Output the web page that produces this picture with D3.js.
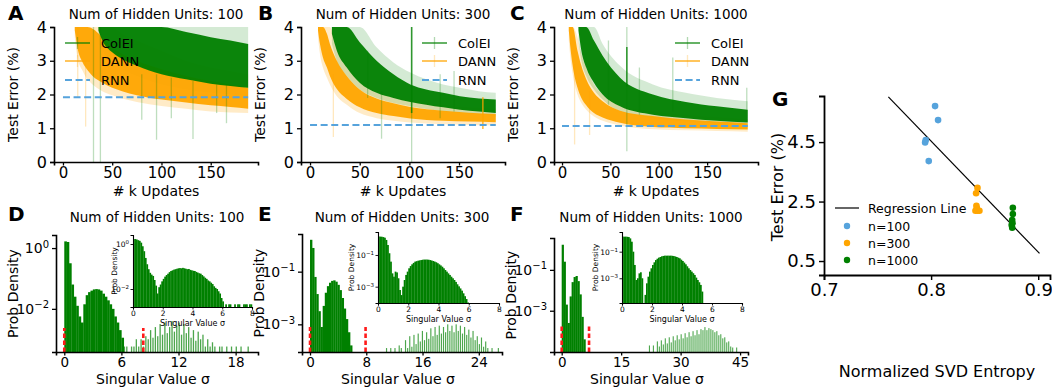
<!DOCTYPE html>
<html>
<head>
<meta charset="utf-8">
<script src="https://cdn.jsdelivr.net/npm/d3@7"></script>
<style>
  body { margin: 0; background: #fff; }
  svg text { font-family: "DejaVu Sans", sans-serif; fill: #000; }
</style>
</head>
<body>
<svg id="fig" width="1052" height="387"></svg>
<script>
// ---------------- data ----------------
const hiddenUnits = [100, 300, 1000];
const updateTicks = [0, 50, 100, 150];
const errorTicks = [0, 1, 2, 3, 4];
const seriesNames = ["ColEI", "DANN", "RNN"];

// test error (%) vs k updates: [k, body low, body high, spread low, spread high]
const coleiA = [
  [36, 3.9, 4, 3.5, 4], [40, 3.6, 4, 3.3, 4], [50, 3.25, 4, 2.95, 4],
  [60, 3.05, 4, 2.75, 4], [75, 2.85, 4, 2.55, 4], [100, 2.6, 4, 2.3, 4],
  [125, 2.45, 3.85, 2.15, 4], [150, 2.32, 3.7, 2.05, 4], [170, 2.25, 3.6, 2.0, 4],
  [188, 2.2, 3.5, 1.95, 4]
];
const dannA = [
  [12, 3.9, 4, 3.7, 4], [15, 3.35, 4, 3.05, 4], [20, 2.95, 4, 2.7, 4],
  [25, 2.72, 4, 2.45, 4], [30, 2.55, 3.95, 2.3, 4], [40, 2.35, 3.7, 2.1, 4],
  [50, 2.2, 3.4, 1.98, 4], [60, 2.1, 3.2, 1.88, 3.8], [75, 1.98, 3.0, 1.78, 3.6],
  [100, 1.85, 2.75, 1.66, 3.3], [125, 1.76, 2.55, 1.58, 3.0], [150, 1.68, 2.4, 1.5, 2.8],
  [170, 1.63, 2.3, 1.47, 2.7], [188, 1.58, 2.2, 1.45, 2.6]
];
const coleiB = [
  [22, 3.8, 4, 3.5, 4], [27, 3.3, 4, 3.0, 4], [37, 2.8, 4, 2.55, 4],
  [50, 2.35, 3.55, 2.15, 4], [67, 2.05, 3.0, 1.9, 3.4], [84, 1.9, 2.6, 1.75, 2.95],
  [101, 1.78, 2.3, 1.65, 2.65], [117, 1.7, 2.15, 1.57, 2.45], [134, 1.62, 2.05, 1.5, 2.3],
  [151, 1.55, 1.95, 1.45, 2.2], [170, 1.5, 1.88, 1.4, 2.1], [187, 1.45, 1.85, 1.35, 2.05]
];
const dannB = [
  [8, 3.9, 4, 3.7, 4], [10, 3.5, 4, 3.2, 4], [13, 3.1, 4, 2.8, 4],
  [17, 2.8, 3.8, 2.5, 4], [20, 2.55, 3.5, 2.3, 4], [27, 2.16, 3.0, 1.95, 3.4],
  [37, 1.87, 2.55, 1.7, 2.9], [50, 1.62, 2.15, 1.45, 2.45], [67, 1.45, 1.88, 1.3, 2.1],
  [84, 1.36, 1.74, 1.22, 1.95], [101, 1.29, 1.63, 1.17, 1.82], [134, 1.22, 1.52, 1.12, 1.7],
  [160, 1.2, 1.46, 1.1, 1.62], [187, 1.18, 1.42, 1.08, 1.58]
];
const coleiC = [
  [17, 3.9, 4, 3.6, 4], [20, 3.3, 4, 3.0, 4], [25, 2.8, 4, 2.55, 4],
  [33, 2.35, 3.6, 2.15, 4], [42, 2.0, 3.15, 1.85, 3.5], [60, 1.65, 2.5, 1.5, 2.85],
  [94, 1.4, 2.0, 1.3, 2.3], [128, 1.3, 1.78, 1.2, 2.05], [160, 1.22, 1.65, 1.13, 1.9],
  [192, 1.17, 1.55, 1.08, 1.8]
];
const dannC = [
  [7, 3.9, 4, 3.6, 4], [9, 3.3, 4, 3.0, 4], [11, 2.85, 4, 2.6, 4],
  [16, 2.2, 3.3, 2.0, 3.7], [20, 1.9, 2.85, 1.75, 3.2], [25, 1.68, 2.45, 1.55, 2.8],
  [33, 1.45, 2.05, 1.35, 2.3], [42, 1.32, 1.8, 1.22, 2.0], [60, 1.16, 1.52, 1.08, 1.7],
  [94, 1.04, 1.36, 0.97, 1.5], [128, 1.0, 1.26, 0.94, 1.4], [160, 0.98, 1.2, 0.92, 1.33],
  [192, 0.96, 1.15, 0.9, 1.27]
];
// RNN baseline test error (%) per network size
const rnnError = [1.92, 1.1, 1.07];
const rnnSpan = [[0, 188], [0, 187], [0, 192]];

// isolated error bars: [k, low, high, series, strong]
const spikesA = [
  [15, 1.9, 4, "DANN", 0], [23, 1.05, 3.0, "DANN", 0], [31, 0, 4, "ColEI", 0],
  [38, 0, 4, "ColEI", 0], [80, 1.25, 2.6, "ColEI", 0], [95, 0.66, 2.6, "ColEI", 0],
  [110, 1.3, 2.5, "ColEI", 0], [132, 0.68, 2.4, "ColEI", 0], [156, 1.45, 2.3, "ColEI", 0],
  [166, 1.15, 2.3, "ColEI", 0]
];
const spikesB = [
  [23.5, 0.74, 2.6, "DANN", 0], [72, 0.69, 2.1, "ColEI", 0], [102.3, 0, 4, "ColEI", 0],
  [102.3, 1.45, 4, "ColEI", 1], [131, 1.3, 2.6, "ColEI", 0], [174, 0.98, 1.92, "DANN", 1],
  [58, 1.9, 3.3, "ColEI", 0], [145, 1.5, 2.7, "ColEI", 0]
];
const spikesC = [
  [13, 0.52, 2.9, "DANN", 0], [28.5, 0.8, 2.1, "DANN", 0], [67, 0.32, 4, "ColEI", 0],
  [67, 2.24, 3.41, "ColEI", 1], [114.5, 1.5, 3.1, "ColEI", 0], [191, 1.55, 2.2, "ColEI", 0],
  [48, 1.7, 3.6, "ColEI", 0], [80, 1.4, 2.8, "ColEI", 0]
];

// singular value spectra: log10 probability density per bin (null = empty bin)
const binMainD = 0.25;
const histMainD = [
  0.22, 0.2, -0.5, -1.2, -1.6, -1.9, -2.25, -2.45, -1.85, -1.55,
  -1.45, -1.4, -1.36, -1.35, -1.36, -1.4, -1.5, -1.6, -1.72, -1.85,
  -2.0, -2.25, -2.45, -2.7, -2.95, -3.24, -3.24, null, -3.24, -3.24,
  -3.0, -3.24, -3.0, -3.24, -2.9, -3.0, -2.7, -2.95, -2.6, -2.9,
  -2.5, -2.85, -2.45, -2.8, -2.6, -2.4, -2.75, -2.55, -2.45, -2.85,
  -2.5, -2.8, -2.6, -2.95, -2.7, -3.05, -2.75, -3.0, -2.85, -3.24,
  -3.0, -3.24, -3.1, -3.24, null, -3.24, -3.24, null, -3.24, null,
  -3.24, null, -3.24, null, -3.24, null, null, -3.24, null
];
const binMainE = 0.3;
const histMainE = [
  0.21, -0.1, -1.2, -1.85, -2.5, -3.1, -2.3, -1.8, -1.55, -1.42,
  -1.35, -1.33, -1.38, -1.5, -1.7, -2.0, -2.4, -2.8, -3.3, -3.8,
  null, null, null, null, null, null, null, null, null, null,
  null, null, null, null, null, null, -3.9, null, -3.9, null,
  -3.9, null, -3.8, -3.9, null, -3.6, -3.9, -3.45, -3.85, -3.4,
  -3.75, -3.35, -3.65, -3.25, -3.6, -3.3, -3.55, -3.15, -3.45, -3.1,
  -3.4, -3.05, -3.35, -3.1, -3.3, -3.0, -3.25, -3.05, -3.3, -3.0,
  -3.25, -3.05, -3.35, -3.1, -3.4, -3.2, -3.5, -3.25, -3.6, -3.45,
  -3.75, -3.5, -3.85, -3.65, -3.9, null, -3.9, null, null, -3.9
];
const binMainF = 0.5;
const histMainF = [
  0.23, -0.6, -2.7, -3.6, -2.3, -1.6, -1.35, -1.3, -1.55, -2.2,
  -3.3, -4.4, null, null, null, null, null, null, null, null,
  null, null, null, null, null, null, null, null, null, null,
  null, null, null, null, null, null, null, null, null, null,
  null, null, null, null, -4.7, null, -4.7, null, -4.5, -4.75,
  -4.45, -4.65, -4.35, -4.6, -4.3, -4.55, -4.25, -4.45, -4.2, -4.4,
  -4.15, -4.35, -4.1, -4.3, -4.05, -4.25, -4.0, -4.2, -3.95, -4.15,
  -3.9, -3.95, -3.8, -3.95, -3.85, -3.9, -3.95, -4.05, -4.0, -4.2,
  -4.15, -4.35, -4.3, -4.55, -4.5, -4.75, -4.8, null, -4.8, null
];
// zoomed spectra on [0, 8], bins of 0.1
const binInset = 0.1;
const histInsetD = [
  0.22, 0.22, 0.2, 0.17, 0.14, 0.06, -0.1, -0.32, -0.62, -0.9,
  -1.12, -1.28, -1.36, -1.42, -1.6, -1.85, -2.2, -1.92, -1.8, -1.66,
  -1.55, -1.45, -1.38, -1.32, -1.25, -1.2, -1.17, -1.14, -1.12, -1.1,
  -1.08, -1.07, -1.08, -1.06, -1.08, -1.1, -1.12, -1.11, -1.15, -1.17,
  -1.19, -1.2, -1.24, -1.27, -1.3, -1.32, -1.38, -1.44, -1.5, -1.55,
  -1.62, -1.66, -1.72, -1.78, -1.88, -1.95, -2.0, -2.1, -2.2, -2.4,
  -2.55, null, -2.68, null, -2.68, -2.68, null, null, -2.68, null,
  -2.68, -2.68, null, null, -2.68, -2.68, -2.68, null, -2.68, -2.68
];
const histInsetE = [
  0.16, 0.16, 0.15, 0.13, 0.09, -0.05, -0.37, -0.89, -1.42, -2.16,
  -2.37, -2.05, -2.1, -2.47, -3.21, -3.53, -3.0, -2.58, -2.26, -2.05,
  -1.84, -1.7, -1.59, -1.5, -1.42, -1.39, -1.36, -1.34, -1.32, -1.3,
  -1.29, -1.29, -1.29, -1.3, -1.32, -1.35, -1.38, -1.42, -1.46, -1.52,
  -1.59, -1.66, -1.74, -1.84, -1.95, -2.05, -2.16, -2.26, -2.37, -2.47,
  -2.58, -2.7, -2.85, -2.98, -3.11, -3.25, -3.42, -3.6, -3.78, -4.0
];
const histInsetF = [
  0.13, 0.13, 0.13, 0.12, 0.1, 0.0, -0.25, -1.0, -2.0, -3.13,
  -3.0, -2.63, -2.55, -3.0, null, -4.25, -3.38, -2.88, -2.5, -2.25,
  -2.0, -1.8, -1.63, -1.53, -1.45, -1.4, -1.35, -1.32, -1.3, -1.3,
  -1.3, -1.3, -1.3, -1.31, -1.33, -1.36, -1.4, -1.45, -1.5, -1.6,
  -1.7, -1.82, -1.95, -2.1, -2.25, -2.38, -2.5, -2.62, -2.75, -2.95,
  -3.13, -3.3, -3.5, -4.0
];
// red dashed markers on the spectra (singular value) and their top (log10 density)
const markersD = [0, 8.3], markerTopD = -2.63;
const markersE = [0, 7.9], markerTopE = -3.1;
const markersF = [0, 6.9], markerTopF = -3.69;

// test error vs normalized SVD entropy
const entropy100 = [0.8037, 0.8065, 0.795, 0.7944, 0.7978];
const error100 = [5.71, 5.24, 4.57, 4.49, 3.86];
const entropy300 = [0.8433, 0.842, 0.8423, 0.8414, 0.8433, 0.8451, 0.8427];
const error300 = [2.96, 2.78, 2.36, 2.19, 2.19, 2.19, 2.28];
const entropy1000 = [0.8763, 0.8763, 0.8757, 0.8752, 0.8757, 0.876];
const error1000 = [2.29, 2.08, 1.88, 1.71, 1.62, 1.77];
const regressionX = [0.7601, 0.9012];
const regressionSlope = -37.3, regressionIntercept = 34.37;
const entropyTicks = [0.7, 0.8, 0.9];
const errorTicksG = [0.5, 2.5, 4.5];

// ---------------- drawing ----------------
const GREEN = "#008000", ORANGE = "#ffa500", BLUE = "#56a3dc", RED = "#ff1a1a";
const svg = d3.select("#fig");

function styleAxis(g, fs, sw) {
  g.select(".domain").attr("stroke", "#000").attr("stroke-width", sw);
  g.selectAll(".tick line").attr("stroke", "#000").attr("stroke-width", sw * 0.8);
  g.selectAll(".tick text").attr("font-size", fs).attr("fill", "#000")
    .attr("font-family", '"DejaVu Sans", sans-serif');
}
function text(x, y, s, fs, opts = {}) {
  const t = svg.append("text").attr("x", x).attr("y", y).attr("font-size", fs).text(s);
  if (opts.anchor) t.attr("text-anchor", opts.anchor);
  if (opts.bold) t.attr("font-weight", "bold");
  if (opts.rotate) t.attr("transform", `rotate(-90,${x},${y})`);
  return t;
}
function powerLabels(g, supSize) {
  g.selectAll(".tick text").each(function (d) {
    const e = Math.round(Math.log10(d));
    const t = d3.select(this);
    t.text("10");
    t.append("tspan").attr("dy", "-0.55em").attr("font-size", supSize)
      .text(e < 0 ? "\u2212" + (-e) : String(e));
  });
}

// ---- training curves (A-C) ----
const topY = [162, 27];
const topPanels = [
  { letter: "A", lx: 8, x0: 54, x1: 258, xdom: [-9.1, 198], colei: coleiA, dann: dannA, spikes: spikesA, leg: 65 },
  { letter: "B", lx: 258, x0: 301, x1: 505, xdom: [-9.1, 196.3], colei: coleiB, dann: dannB, spikes: spikesB, leg: 422 },
  { letter: "C", lx: 510, x0: 554, x1: 758, xdom: [-8.3, 202.6], colei: coleiC, dann: dannC, spikes: spikesC, leg: 675 }
];
topPanels.forEach((p, i) => {
  const x = d3.scaleLinear().domain(p.xdom).range([p.x0, p.x1]);
  const y = d3.scaleLinear().domain([0, 4]).range(topY);
  const cid = "clip" + p.letter;
  svg.append("clipPath").attr("id", cid).append("rect")
    .attr("x", p.x0).attr("y", topY[1]).attr("width", p.x1 - p.x0).attr("height", topY[0] - topY[1]);
  const g = svg.append("g").attr("clip-path", `url(#${cid})`);
  const spread = d3.area().x(d => x(d[0])).y0(d => y(d[3])).y1(d => y(d[4])).curve(d3.curveMonotoneX);
  const body = d3.area().x(d => x(d[0])).y0(d => y(d[1])).y1(d => y(d[2])).curve(d3.curveMonotoneX);
  g.append("path").datum(p.dann).attr("d", spread).attr("fill", ORANGE).attr("opacity", 0.22);
  g.append("path").datum(p.colei).attr("d", spread).attr("fill", GREEN).attr("opacity", 0.17);
  g.append("path").datum(p.dann).attr("d", body).attr("fill", ORANGE).attr("opacity", 0.95);
  g.append("path").datum(p.colei).attr("d", body).attr("fill", GREEN).attr("opacity", 0.95);
  g.selectAll(".spike").data(p.spikes).enter().append("line")
    .attr("x1", d => x(d[0])).attr("x2", d => x(d[0]))
    .attr("y1", d => y(d[1])).attr("y2", d => y(d[2]))
    .attr("stroke", d => d[3] === "ColEI" ? GREEN : ORANGE)
    .attr("stroke-width", d => d[4] ? 1.6 : 1.3)
    .attr("opacity", d => d[4] ? 0.75 : 0.25);
  g.append("line")
    .attr("x1", x(rnnSpan[i][0])).attr("x2", x(rnnSpan[i][1]))
    .attr("y1", y(rnnError[i])).attr("y2", y(rnnError[i]))
    .attr("stroke", BLUE).attr("stroke-width", 2).attr("stroke-dasharray", "7,3.6");

  const gx = svg.append("g").attr("transform", `translate(0,${topY[0]})`)
    .call(d3.axisBottom(x).tickValues(updateTicks).tickSizeOuter(0).tickSize(3.5).tickPadding(1.5));
  styleAxis(gx, 15, 1.6);
  const gy = svg.append("g").attr("transform", `translate(${p.x0},0)`)
    .call(d3.axisLeft(y).tickValues(errorTicks).tickFormat(d3.format("d")).tickSizeOuter(0).tickSize(4).tickPadding(3));
  styleAxis(gy, 16, 1.6);

  const cx = (p.x0 + p.x1) / 2;
  text(cx, 19, "Num of Hidden Units: " + hiddenUnits[i], 13.5, { anchor: "middle" });
  text(p.lx, 20, p.letter, 20, { bold: true });
  text(cx, 196, "# k Updates", 14, { anchor: "middle" });
  text(p.x0 - 36, (topY[0] + topY[1]) / 2, "Test Error (%)", 14, { anchor: "middle", rotate: true });

  // legend
  const rows = [43, 61, 80];
  const lg = svg.append("g");
  lg.append("line").attr("x1", p.leg).attr("x2", p.leg + 25).attr("y1", rows[0]).attr("y2", rows[0])
    .attr("stroke", GREEN).attr("stroke-width", 2).attr("opacity", 0.6);
  lg.append("line").attr("x1", p.leg + 12.5).attr("x2", p.leg + 12.5).attr("y1", rows[0] - 6).attr("y2", rows[0] + 6)
    .attr("stroke", GREEN).attr("stroke-width", 1.3).attr("opacity", 0.3);
  lg.append("line").attr("x1", p.leg).attr("x2", p.leg + 25).attr("y1", rows[1]).attr("y2", rows[1])
    .attr("stroke", ORANGE).attr("stroke-width", 1.6).attr("opacity", 0.8);
  lg.append("line").attr("x1", p.leg + 12.5).attr("x2", p.leg + 12.5).attr("y1", rows[1] - 6).attr("y2", rows[1] + 6)
    .attr("stroke", ORANGE).attr("stroke-width", 1.3).attr("opacity", 0.25);
  lg.append("line").attr("x1", p.leg).attr("x2", p.leg + 25).attr("y1", rows[2]).attr("y2", rows[2])
    .attr("stroke", BLUE).attr("stroke-width", 2).attr("stroke-dasharray", "7,3.6");
  seriesNames.forEach((s, k) => {
    lg.append("text").attr("x", p.leg + 36).attr("y", rows[k]).attr("dy", "0.36em")
      .attr("font-size", 13).text(s);
  });
});

// ---- singular value spectra (D-F) ----
const botPanels = [
  { letter: "D", lx: 8, x0: 56, x1: 258, xdom: [-0.87, 20.35], ydom: [-3.42, 0.43], yr: [352, 235],
    bins: histMainD, bw: binMainD, bodyEnd: 6.25, xticks: [0, 6, 12, 18], yticks: [0, -2],
    markers: markersD, markerTop: markerTopD,
    inset: { x0: 133, x1: 252, y0: 235, y1: 307, ydom: [-2.8, 0.4], bins: histInsetD, yticks: [0, -2], lab: 16 } },
  { letter: "E", lx: 258, x0: 302, x1: 502, xdom: [-1.14, 27.3], ydom: [-4.05, 0.43], yr: [352, 234],
    bins: histMainE, bw: binMainE, bodyEnd: 6.1, xticks: [0, 8, 16, 24], yticks: [-1, -3],
    markers: markersE, markerTop: markerTopE,
    inset: { x0: 378, x1: 499, y0: 232, y1: 303, ydom: [-4.03, 0.45], bins: histInsetE, yticks: [-1, -3], lab: 24 } },
  { letter: "F", lx: 510, x0: 554, x1: 748, xdom: [-1.94, 47.0], ydom: [-5.02, 0.56], yr: [352, 238],
    bins: histMainF, bw: binMainF, bodyEnd: 6.1, xticks: [0, 15, 30, 45], yticks: [-1, -3],
    markers: markersF, markerTop: markerTopF,
    inset: { x0: 622, x1: 742, y0: 232, y1: 303, ydom: [-4.86, 0.48], bins: histInsetF, yticks: [-1, -3], lab: 24 } }
];
function drawBars(g, bins, bw, x, y, yBase, bodyEnd) {
  const items = bins.map((v, i) => ({ v, a: i * bw, b: (i + 1) * bw })).filter(d => d.v !== null);
  g.selectAll("rect.bar").data(items).enter().append("rect")
    .attr("x", d => x(d.a))
    .attr("width", d => d.a < bodyEnd ? Math.max(0.6, x(d.b) - x(d.a) + 0.25) : Math.max(0.8, (x(d.b) - x(d.a)) * 0.55))
    .attr("y", d => y(Math.pow(10, d.v)))
    .attr("height", d => Math.max(0, yBase - y(Math.pow(10, d.v))))
    .attr("fill", GREEN)
    .attr("opacity", d => d.a < bodyEnd ? 1 : 0.7);
}
botPanels.forEach((p, i) => {
  const x = d3.scaleLinear().domain(p.xdom).range([p.x0, p.x1]);
  const y = d3.scaleLog().domain(p.ydom.map(v => Math.pow(10, v))).range(p.yr);
  drawBars(svg.append("g"), p.bins, p.bw, x, y, p.yr[0], p.bodyEnd);
  p.markers.forEach(m => {
    svg.append("line").attr("x1", x(m)).attr("x2", x(m))
      .attr("y1", p.yr[0]).attr("y2", y(Math.pow(10, p.markerTop)))
      .attr("stroke", RED).attr("stroke-width", 2.6).attr("stroke-dasharray", "4.5,2.5");
  });
  const gx = svg.append("g").attr("transform", `translate(0,${p.yr[0]})`)
    .call(d3.axisBottom(x).tickValues(p.xticks).tickSizeOuter(0).tickSize(3.5).tickPadding(1.5));
  styleAxis(gx, 13.5, 1.6);
  const gy = svg.append("g").attr("transform", `translate(${p.x0},0)`)
    .call(d3.axisLeft(y).tickValues(p.yticks.map(e => Math.pow(10, e))).tickSizeOuter(0).tickSize(4).tickPadding(3));
  styleAxis(gy, 14, 1.6);
  powerLabels(gy, 10);

  const cx = (p.x0 + p.x1) / 2;
  text(cx, 222, "Num of Hidden Units: " + hiddenUnits[i], 13.5, { anchor: "middle" });
  text(p.lx, 221, p.letter, 20, { bold: true });
  text(cx - 4, 384, "Singular Value \u03c3", 14, { anchor: "middle" });
  text(p.x0 - 38, (p.yr[0] + p.yr[1]) / 2, "Prob Density", 14, { anchor: "middle", rotate: true });

  // inset: zoom on [0, 8]
  const q = p.inset;
  const xi = d3.scaleLinear().domain([0, 8]).range([q.x0, q.x1]);
  const yi = d3.scaleLog().domain(q.ydom.map(v => Math.pow(10, v))).range([q.y1, q.y0]);
  drawBars(svg.append("g"), q.bins, binInset, xi, yi, q.y1, 8);
  const ix = svg.append("g").attr("transform", `translate(0,${q.y1})`)
    .call(d3.axisBottom(xi).tickValues([0, 2, 4, 6, 8]).tickSizeOuter(0).tickSize(2.5).tickPadding(1));
  styleAxis(ix, 7.5, 1.1);
  const iy = svg.append("g").attr("transform", `translate(${q.x0},0)`)
    .call(d3.axisLeft(yi).tickValues(q.yticks.map(e => Math.pow(10, e))).tickSizeOuter(0).tickSize(2.5).tickPadding(1.5));
  styleAxis(iy, 7.5, 1.1);
  powerLabels(iy, 5.5);
  text((q.x0 + q.x1) / 2, q.y1 + 19, "Singular Value \u03c3", 8, { anchor: "middle" });
  text(q.x0 - q.lab, (q.y0 + q.y1) / 2, "Prob Density", 7.5, { anchor: "middle", rotate: true });
});

// ---- test error vs SVD entropy (G) ----
(function () {
  const x = d3.scaleLinear().domain([0.7, 0.911]).range([824, 1050]);
  const y = d3.scaleLinear().domain([0.03, 6.05]).range([275, 96]);
  svg.append("line")
    .attr("x1", x(regressionX[0])).attr("y1", y(regressionSlope * regressionX[0] + regressionIntercept))
    .attr("x2", x(regressionX[1])).attr("y2", y(regressionSlope * regressionX[1] + regressionIntercept))
    .attr("stroke", "#000").attr("stroke-width", 1.2);
  const groups = [
    { xs: entropy100, ys: error100, c: BLUE },
    { xs: entropy300, ys: error300, c: ORANGE },
    { xs: entropy1000, ys: error1000, c: GREEN }
  ];
  groups.forEach(gp => {
    svg.append("g").selectAll("circle").data(gp.xs.map((v, k) => [v, gp.ys[k]])).enter()
      .append("circle").attr("cx", d => x(d[0])).attr("cy", d => y(d[1])).attr("r", 3.3).attr("fill", gp.c);
  });
  const gx = svg.append("g").attr("transform", "translate(0,275)")
    .call(d3.axisBottom(x).tickValues(entropyTicks).tickFormat(d3.format(".1f")).tickSizeOuter(0).tickSize(5).tickPadding(3));
  styleAxis(gx, 18, 1.8);
  const gy = svg.append("g").attr("transform", "translate(824,0)")
    .call(d3.axisLeft(y).tickValues(errorTicksG).tickFormat(d3.format(".1f")).tickSizeOuter(0).tickSize(5).tickPadding(3));
  styleAxis(gy, 18, 1.8);
  text(772, 106, "G", 20, { bold: true });
  text(937, 377, "Normalized SVD Entropy", 16, { anchor: "middle" });
  text(783, 187, "Test Error (%)", 16, { anchor: "middle", rotate: true });

  const lg = svg.append("g");
  lg.append("line").attr("x1", 835).attr("x2", 859).attr("y1", 208).attr("y2", 208).attr("stroke", "#000").attr("stroke-width", 1.2);
  const labels = ["Regression Line", "n=" + hiddenUnits[0], "n=" + hiddenUnits[1], "n=" + hiddenUnits[2]];
  const rows = [208, 226, 243, 260];
  [BLUE, ORANGE, GREEN].forEach((c, k) => {
    lg.append("circle").attr("cx", 847).attr("cy", rows[k + 1]).attr("r", 3.2).attr("fill", c);
  });
  labels.forEach((s, k) => {
    lg.append("text").attr("x", 868).attr("y", rows[k]).attr("dy", "0.36em").attr("font-size", 12.5).text(s);
  });
})();
</script>
</body>
</html>
